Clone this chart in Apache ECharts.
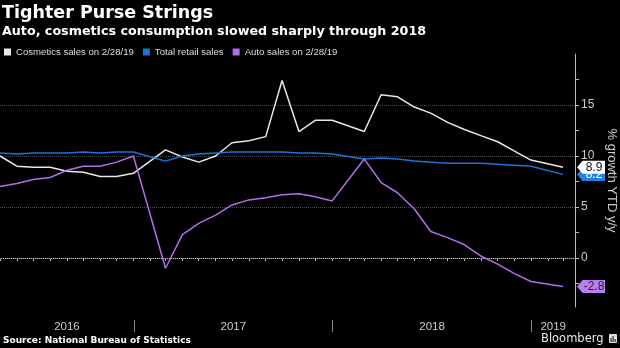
<!DOCTYPE html>
<html>
<head>
<meta charset="utf-8">
<style>
  html, body { margin: 0; padding: 0; background: #000; }
  #chart { width: 620px; height: 348px; }
</style>
<script src="https://cdn.jsdelivr.net/npm/echarts@6/dist/echarts.min.js"></script>
</head>
<body>
<div id="chart"></div>
<script>
// Month-end reporting dates (January is folded into the Jan-Feb release)
const dates = [
  '2016-04-30', '2016-05-31', '2016-06-30', '2016-07-31', '2016-08-31', '2016-09-30',
  '2016-10-31', '2016-11-30', '2016-12-31',
  '2017-02-28', '2017-03-31', '2017-04-30', '2017-05-31', '2017-06-30', '2017-07-31',
  '2017-08-31', '2017-09-30', '2017-10-31', '2017-11-30', '2017-12-31',
  '2018-02-28', '2018-03-31', '2018-04-30', '2018-05-31', '2018-06-30', '2018-07-31',
  '2018-08-31', '2018-09-30', '2018-10-31', '2018-11-30', '2018-12-31',
  '2019-02-28'
];

// % growth YTD y/y
const cosmetics = [
  10.0, 9.0, 8.9, 8.9, 8.5, 8.4, 8.0, 8.0, 8.3,
  10.6, 9.9, 9.4, 10.0, 11.3, 11.5, 11.9, 17.4, 12.4, 13.5, 13.5,
  12.4, 16.0, 15.8, 14.8, 14.2, 13.3, 12.6, 12.0, 11.4, 10.5, 9.6,
  8.9
];
const retail = [
  10.3, 10.2, 10.3, 10.3, 10.3, 10.4, 10.3, 10.4, 10.4,
  9.5, 10.0, 10.2, 10.3, 10.4, 10.4, 10.4, 10.4, 10.3, 10.3, 10.2,
  9.7, 9.8, 9.7, 9.5, 9.4, 9.3, 9.3, 9.3, 9.2, 9.1, 9.0,
  8.2
];
const auto = [
  7.0, 7.3, 7.7, 7.9, 8.6, 9.0, 9.0, 9.4, 10.0,
  -1.0, 2.3, 3.4, 4.2, 5.2, 5.7, 5.9, 6.2, 6.3, 6.0, 5.6,
  9.7, 7.4, 6.4, 4.8, 2.6, 2.0, 1.3, 0.2, -0.6, -1.5, -2.3,
  -2.8
];

const seriesNames = ['Cosmetics sales on 2/28/19', 'Total retail sales', 'Auto sales on 2/28/19'];
const yearLabels = ['2016', '2017', '2018', '2019'];
const yTickLabels = [0, 5, 10, 15];
const yMinorTicks = [-2.5, 0, 2.5, 5, 7.5, 10, 12.5, 15, 17.5];

const xStart = '2016-04-30';
const xEnd = '2019-03-22';

function ts(s) {
  const p = s.split('-').map(Number);
  return Date.UTC(p[0], p[1] - 1, p[2]);
}
const xMin = ts(xStart);
const xMax = ts(xEnd);

// monthly tick marks at each month end inside the axis range
const monthTicks = [];
for (let y = 2016; y <= 2019; y++) {
  for (let m = 1; m <= 12; m++) {
    const t = Date.UTC(y, m, 0);
    if (t >= xMin && t <= xMax) monthTicks.push(t);
  }
}
// year separators and centred year labels
const yearStarts = yearLabels.slice(1).map(y => Date.UTC(+y, 0, 1));
const yearMids = yearLabels.map(y => {
  const a = Math.max(Date.UTC(+y, 0, 1), xMin);
  const b = Math.min(Date.UTC(+y + 1, 0, 1), xMax);
  return (a + b) / 2;
});

const pairs = arr => arr.map((v, i) => [ts(dates[i]), v]);

const colors = ['#e8e8e8', '#1c72d6', '#b26de8'];
const flagPath = 'path://M0,6.5 L6,0 L30,0 L30,13 L6,13 Z';

function endFlag(arr, fill, textColor, z) {
  const last = arr.length - 1;
  return {
    silent: true,
    z: z,
    symbol: flagPath,
    symbolSize: [28, 13],
    symbolOffset: [28, 0],
    itemStyle: { color: fill },
    label: {
      show: true,
      position: 'inside',
      offset: [3, 0],
      color: textColor,
      fontFamily: 'Liberation Sans',
      fontSize: 12,
      formatter: p => p.value.toFixed(1)
    },
    data: [{ coord: [ts(dates[last]), arr[last]], value: arr[last] }]
  };
}

const chart = echarts.init(document.getElementById('chart'), null, { renderer: 'canvas' });

chart.setOption({
  backgroundColor: '#000',
  animation: false,
  color: colors,
  title: [
    {
      text: 'Tighter Purse Strings',
      left: 2, top: 4, padding: 0,
      textStyle: { color: '#fff', fontFamily: 'DejaVu Sans', fontWeight: 'bold', fontSize: 17.5 }
    },
    {
      text: 'Auto, cosmetics consumption slowed sharply through 2018',
      left: 2, top: 25, padding: 0,
      textStyle: { color: '#fff', fontFamily: 'DejaVu Sans', fontWeight: 'bold', fontSize: 12.7 }
    }
  ],
  legend: {
    left: 4, top: 47, padding: 0,
    icon: 'rect', itemWidth: 7, itemHeight: 7, itemGap: 9,
    selectedMode: false,
    textStyle: { color: '#ddd', fontFamily: 'Liberation Sans', fontSize: 9.6 },
    data: seriesNames
  },
  grid: { left: 0, right: 45, top: 54, bottom: 41, containLabel: false, outerBoundsMode: 'none' },
  xAxis: [
    {
      type: 'value', min: xMin, max: xMax,
      axisLine: { show: true, lineStyle: { color: '#bbb', width: 1 } },
      axisTick: { show: true, customValues: monthTicks, length: 3, lineStyle: { color: '#bbb' } },
      axisLabel: {
        show: true, customValues: yearMids, margin: 14,
        color: '#ccc', fontFamily: 'Liberation Sans', fontSize: 11.5,
        formatter: v => yearLabels[new Date(v).getUTCFullYear() - +yearLabels[0]]
      },
      splitLine: { show: false }
    },
    {
      type: 'value', min: xMin, max: xMax, position: 'bottom', offset: 13,
      axisLine: { show: false },
      axisTick: { show: true, customValues: yearStarts, length: 12, lineStyle: { color: '#888' } },
      axisLabel: { show: false },
      splitLine: { show: false }
    }
  ],
  yAxis: {
    type: 'value', position: 'right', min: -4.8, max: 20,
    axisLine: { show: true, lineStyle: { color: '#bbb', width: 1 } },
    axisTick: { show: true, customValues: yMinorTicks, length: 4, lineStyle: { color: '#bbb' } },
    axisLabel: {
      show: true, customValues: yTickLabels, margin: 6,
      color: '#ccc', fontFamily: 'Liberation Sans', fontSize: 12
    },
    splitLine: { show: false },
    name: '% growth YTD y/y',
    nameLocation: 'middle', nameRotate: -90, nameGap: 28,
    nameTextStyle: { color: '#ccc', fontFamily: 'Liberation Sans', fontSize: 13 }
  },
  series: [
    {
      name: seriesNames[0], type: 'line', data: pairs(cosmetics),
      showSymbol: false, symbol: 'none', z: 3,
      lineStyle: { width: 1.5, color: colors[0] },
      markPoint: endFlag(cosmetics, '#ffffff', '#111', 8)
    },
    {
      name: seriesNames[1], type: 'line', data: pairs(retail),
      showSymbol: false, symbol: 'none', z: 4,
      lineStyle: { width: 1.5, color: colors[1] },
      markLine: {
        silent: true, symbol: 'none', z: 1,
        label: { show: false },
        lineStyle: { color: '#4a4a4a', type: 'dotted', width: 1 },
        data: yTickLabels.map(v => ({ yAxis: v }))
      },
      markPoint: endFlag(retail, '#1f84ea', '#fff', 7)
    },
    {
      name: seriesNames[2], type: 'line', data: pairs(auto),
      showSymbol: false, symbol: 'none', z: 5,
      lineStyle: { width: 1.5, color: colors[2] },
      markPoint: endFlag(auto, '#bb7ef0', '#222', 7)
    }
  ],
  graphic: [
    {
      type: 'text', left: 3, top: 336,
      style: { text: 'Source: National Bureau of Statistics', fill: '#fff',
               font: 'bold 9px "DejaVu Sans"' }
    },
    {
      type: 'text', left: 541, top: 333,
      style: { text: 'Bloomberg', fill: '#e8e8e8', font: '11.5px "DejaVu Sans"' }
    },
    {
      type: 'group', left: 609, top: 334,
      children: [
        { type: 'rect', shape: { x: 0, y: 0, width: 8, height: 9, r: 1 }, style: { fill: '#ddd' } },
        { type: 'rect', shape: { x: 1.5, y: 4, width: 1.2, height: 4 }, style: { fill: '#333' } },
        { type: 'rect', shape: { x: 3.5, y: 2, width: 1.2, height: 6 }, style: { fill: '#333' } },
        { type: 'rect', shape: { x: 5.5, y: 5, width: 1.2, height: 3 }, style: { fill: '#333' } }
      ]
    }
  ]
});
</script>
</body>
</html>
